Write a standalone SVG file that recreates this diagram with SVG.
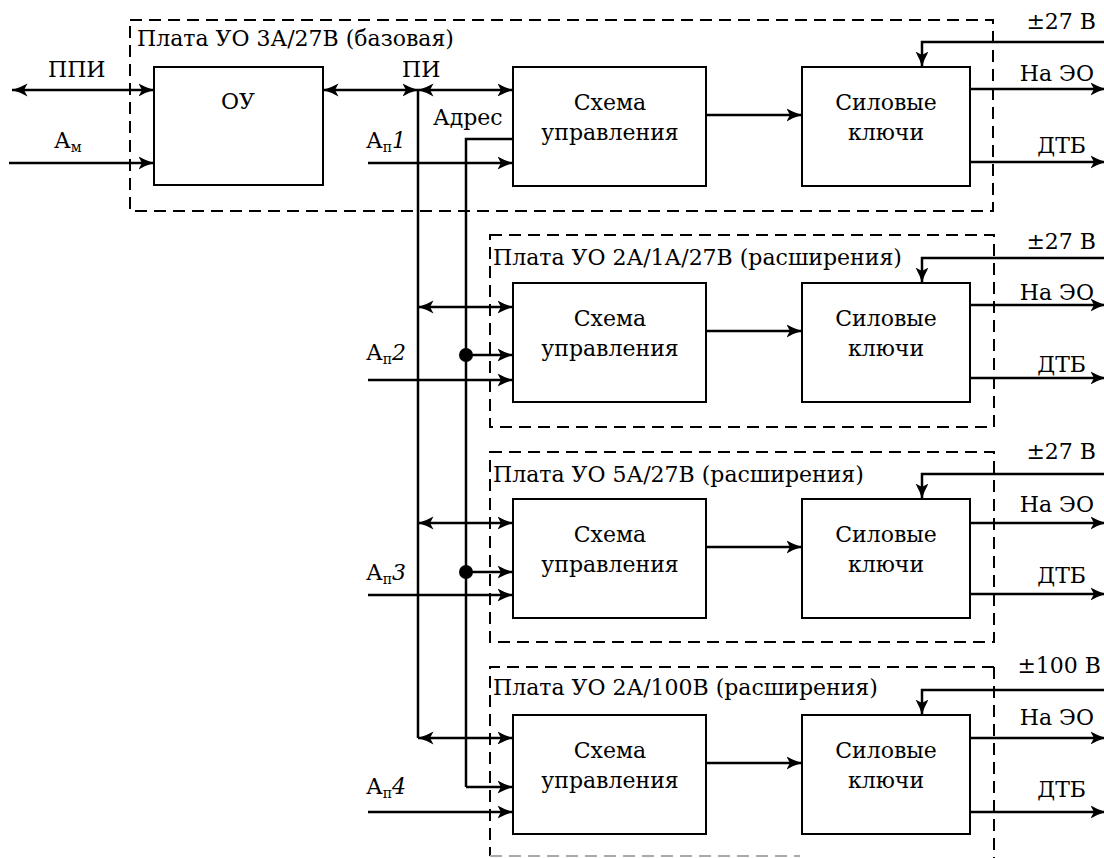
<svg xmlns="http://www.w3.org/2000/svg" width="1104" height="858" viewBox="0 0 1104 858">
<style>
.box{fill:#fff;stroke:#000;stroke-width:2}
.dash{fill:none;stroke:#000;stroke-width:2;stroke-dasharray:12 7}
.w{fill:none;stroke:#000;stroke-width:2.5}
.w2{fill:none;stroke:#000;stroke-width:2.5;marker-end:url(#ah)}
.bi{fill:none;stroke:#000;stroke-width:2.5;marker-start:url(#ah);marker-end:url(#ah)}
text{font-family:"DejaVu Serif","Liberation Serif",serif;font-size:22px;fill:#000}
.c{text-anchor:middle}
.e{text-anchor:end}
.s{font-size:14px}
.i{font-style:italic}
</style>
<defs>
<marker id="ah" viewBox="0 0 16 14" markerUnits="userSpaceOnUse" markerWidth="16" markerHeight="14" refX="15.5" refY="7" orient="auto-start-reverse">
<path d="M0,0.5 Q8,5 15.5,7 Q8,9 0,13.5 L3.5,7 z" fill="#000"/>
</marker>
</defs>
<g id="board1">
<rect class="dash" x="130" y="20" width="863" height="191"/>
<text x="137" y="46">Плата УО 3А/27В (базовая)</text>
</g>
<g id="ou"><rect class="box" x="154" y="67" width="169" height="118"/><text class="c" x="238" y="109">ОУ</text></g>
<g id="su1"><rect class="box" x="513" y="67" width="193" height="119"/><text class="c" x="610" y="110">Схема</text><text class="c" x="610" y="140">управления</text></g>
<g id="sk1"><rect class="box" x="802" y="67" width="168" height="119"/><text class="c" x="886" y="110">Силовые</text><text class="c" x="886" y="140">ключи</text></g>

<g id="board2">
<rect class="dash" x="490" y="235" width="504" height="192"/>
<text x="493" y="265">Плата УО 2А/1А/27В (расширения)</text>
</g>
<g id="su2"><rect class="box" x="513" y="283" width="193" height="119"/><text class="c" x="610" y="326">Схема</text><text class="c" x="610" y="356">управления</text></g>
<g id="sk2"><rect class="box" x="802" y="283" width="168" height="119"/><text class="c" x="886" y="326">Силовые</text><text class="c" x="886" y="356">ключи</text></g>

<g id="board3">
<rect class="dash" x="490" y="452" width="504" height="190"/>
<text x="493" y="482">Плата УО 5А/27В (расширения)</text>
</g>
<g id="su3"><rect class="box" x="513" y="499" width="193" height="119"/><text class="c" x="610" y="542">Схема</text><text class="c" x="610" y="572">управления</text></g>
<g id="sk3"><rect class="box" x="802" y="499" width="168" height="119"/><text class="c" x="886" y="542">Силовые</text><text class="c" x="886" y="572">ключи</text></g>

<g id="board4">
<path class="dash" d="M994,667 H490 V856"/>
<path class="dash" d="M490,856 H800" style="stroke:#aaa"/>
<path class="dash" d="M994,667 V858"/>
<text x="493" y="695">Плата УО 2А/100В (расширения)</text>
</g>
<g id="su4"><rect class="box" x="513" y="715" width="193" height="119"/><text class="c" x="610" y="758">Схема</text><text class="c" x="610" y="788">управления</text></g>
<g id="sk4"><rect class="box" x="802" y="715" width="168" height="119"/><text class="c" x="886" y="758">Силовые</text><text class="c" x="886" y="788">ключи</text></g>

<g id="connectors">
<path class="bi" d="M12,90 H154"/>
<path class="w2" d="M9,163 H154"/>
<path class="bi" d="M323,90 H418"/>
<path class="bi" d="M418,90 H513"/>
<path class="w" d="M418,90 V738"/>
<path class="w" d="M513,139 H466 V787"/>
<path class="w2" d="M466,787 H513"/>
<path class="w2" d="M368,163 H513"/>
<path class="w2" d="M706,115 H802"/>
<path class="w2" d="M1104,42 H922 V67"/>
<path class="w2" d="M970,89 H1106"/>
<path class="w2" d="M970,162 H1106"/>

<path class="bi" d="M418,307 H513"/>
<path class="w2" d="M466,355 H513"/>
<circle cx="466" cy="355" r="7" fill="#000"/>
<path class="w2" d="M368,380 H513"/>
<path class="w2" d="M706,331 H802"/>
<path class="w2" d="M1104,258 H922 V283"/>
<path class="w2" d="M970,305 H1106"/>
<path class="w2" d="M970,378 H1106"/>

<path class="bi" d="M418,523 H513"/>
<path class="w2" d="M466,572 H513"/>
<circle cx="466" cy="572" r="7" fill="#000"/>
<path class="w2" d="M368,595 H513"/>
<path class="w2" d="M706,547 H802"/>
<path class="w2" d="M1104,474 H922 V499"/>
<path class="w2" d="M970,523 H1106"/>
<path class="w2" d="M970,594 H1106"/>

<path class="bi" d="M418,738 H513"/>
<path class="w2" d="M368,812 H513"/>
<path class="w2" d="M706,763 H802"/>
<path class="w2" d="M1104,690 H922 V715"/>
<path class="w2" d="M970,738 H1106"/>
<path class="w2" d="M970,812 H1106"/>
</g>

<g id="labels">
<text x="48" y="77">ППИ</text>
<text x="54" y="148">А<tspan class="s" dy="4">м</tspan></text>
<text x="402" y="77">ПИ</text>
<text x="433" y="125">Адрес</text>
<text x="366" y="148">А<tspan class="s" dy="4">п</tspan><tspan class="i" dy="-4">1</tspan></text>
<text x="366" y="360">А<tspan class="s" dy="4">п</tspan><tspan class="i" dy="-4">2</tspan></text>
<text x="366" y="580">А<tspan class="s" dy="4">п</tspan><tspan class="i" dy="-4">3</tspan></text>
<text x="366" y="794">А<tspan class="s" dy="4">п</tspan><tspan class="i" dy="-4">4</tspan></text>
<text class="e" x="1096" y="29">±27 В</text>
<text class="e" x="1094" y="81">На ЭО</text>
<text class="e" x="1086" y="153">ДТБ</text>
<text class="e" x="1096" y="249">±27 В</text>
<text class="e" x="1094" y="300">На ЭО</text>
<text class="e" x="1086" y="372">ДТБ</text>
<text class="e" x="1096" y="459">±27 В</text>
<text class="e" x="1094" y="512">На ЭО</text>
<text class="e" x="1086" y="583">ДТБ</text>
<text class="e" x="1101" y="673">±100 В</text>
<text class="e" x="1094" y="725">На ЭО</text>
<text class="e" x="1086" y="797">ДТБ</text>
</g>
</svg>
